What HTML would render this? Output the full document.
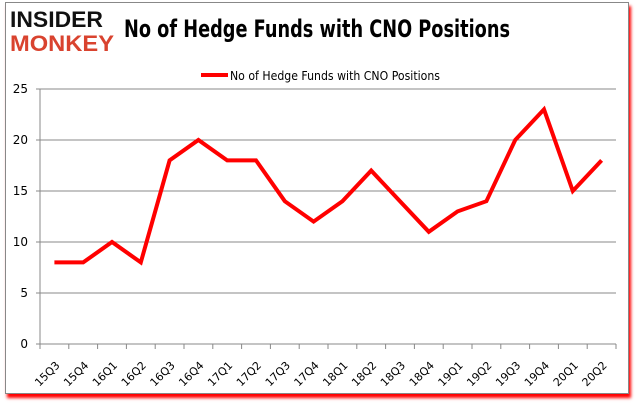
<!DOCTYPE html>
<html><head><meta charset="utf-8"><style>
body{margin:0;width:635px;height:405px;background:#fff;overflow:hidden;font-family:"Liberation Sans",sans-serif}
#frame{position:absolute;left:5px;top:2px;width:622px;height:390px;border:1px solid #888;background:#fff;box-shadow:2px 4px 3px #f00}
</style></head><body>
<div id="frame"></div>
<svg id="c" width="635" height="405" style="position:absolute;left:0;top:0">
<g>
<text x="10" y="27" font-size="22" font-weight="bold" fill="#111" font-family="Liberation Sans" textLength="93" lengthAdjust="spacingAndGlyphs">INSIDER</text>
<text x="10" y="51" font-size="22" font-weight="bold" fill="#d9432f" font-family="Liberation Sans" textLength="104" lengthAdjust="spacingAndGlyphs">MONKEY</text>
</g>
<text x="124" y="37" font-size="24" font-weight="bold" fill="#000" font-family="DejaVu Sans" textLength="386" lengthAdjust="spacingAndGlyphs">No of Hedge Funds with CNO Positions</text>
<g>
<line x1="201" y1="75" x2="228" y2="75" stroke="#f00" stroke-width="4"/>
<text x="230" y="80" font-size="12" fill="#000" font-family="DejaVu Sans" textLength="210" lengthAdjust="spacingAndGlyphs">No of Hedge Funds with CNO Positions</text>
</g>
<g id="grid"></g><g id="axes"></g><g id="series"></g>
</svg>
<script>
const categories=["15Q3","15Q4","16Q1","16Q2","16Q3","16Q4","17Q1","17Q2","17Q3","17Q4","18Q1","18Q2","18Q3","18Q4","19Q1","19Q2","19Q3","19Q4","20Q1","20Q2"];
const values=[8,8,10,8,18,20,18,18,14,12,14,17,14,11,13,14,20,23,15,18];
const yTicks=[0,5,10,15,20,25];
const NS="http://www.w3.org/2000/svg";
const x0=40,x1=616,yb=344,yt=89,yMax=25;
const bw=(x1-x0)/categories.length;
const xs=i=>x0+bw*(i+0.5);
const ys=v=>yb-(v/yMax)*(yb-yt);
function mk(t,a,p){const e=document.createElementNS(NS,t);for(const k in a)e.setAttribute(k,a[k]);p.appendChild(e);return e;}
const g=document.getElementById('grid'),ax=document.getElementById('axes'),s=document.getElementById('series');
yTicks.forEach(v=>{
 const l=mk('line',{x1:x0-4,x2:x1,y1:ys(v),y2:ys(v),stroke:'#888','stroke-width':1},g);
 
 
 const t=mk('text',{x:x0-12,y:ys(v)+4,'font-size':12,'text-anchor':'end','font-family':'DejaVu Sans',fill:'#000'},ax);
 t.textContent=v;
 
 
});
mk('line',{x1:x0,x2:x0,y1:yt,y2:yb,stroke:'#888'},ax);
for(let i=0;i<=categories.length;i++){mk('line',{x1:x0+bw*i,x2:x0+bw*i,y1:yb,y2:yb+5,stroke:'#888'},ax);}
categories.forEach((c,i)=>{
 const x=xs(i)+6,y=yb+22;
 const t=mk('text',{x:x,y:y,'font-size':11,'text-anchor':'end','font-family':'DejaVu Sans',fill:'#000',transform:`rotate(-45 ${x} ${y})`},ax);
 t.textContent=c;
 
 
});
const p=mk('polyline',{points:values.map((v,i)=>xs(i)+','+ys(v)).join(' '),fill:'none',stroke:'#f00','stroke-width':4,'stroke-linejoin':'miter'},s);


</script>
</body></html>
